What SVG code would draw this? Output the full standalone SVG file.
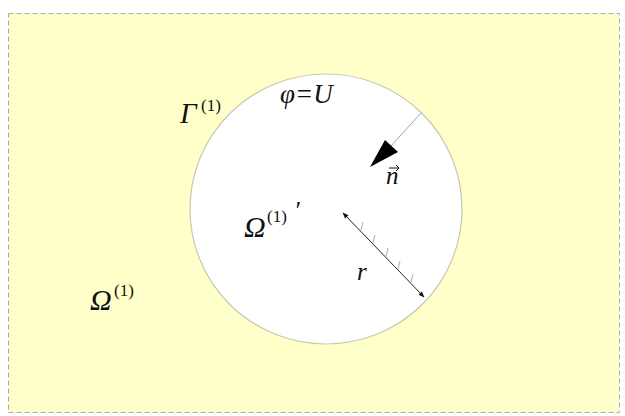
<svg xmlns="http://www.w3.org/2000/svg" width="625" height="416" viewBox="0 0 625 416">
<defs>
<style>
.t{font-family:"Liberation Serif","DejaVu Serif",serif;font-style:italic;fill:#111;}
.sup{font-family:"Liberation Serif","DejaVu Serif",serif;font-style:normal;fill:#111;font-size:17px;}
.tick{stroke:#aaa;stroke-width:1;}
</style>
<marker id="ah" viewBox="0 0 10 10" refX="9" refY="5" markerWidth="7" markerHeight="6" orient="auto-start-reverse" markerUnits="userSpaceOnUse">
<path d="M0,1 L10,5 L0,9 z" fill="#111"/>
</marker>
</defs>
<rect width="625" height="416" fill="#fff"/>
<rect x="8.5" y="13.5" width="611" height="399" fill="#ffffc9" stroke="#aaa" stroke-dasharray="5,3" stroke-width="1"/>
<g id="circle">
<ellipse cx="326" cy="209" rx="136" ry="135" fill="#fff" stroke="#c8c8b0" stroke-width="1.2"/>
</g>
<g id="connectors">
<line x1="421" y1="113" x2="390" y2="147" stroke="#9aa6c0" stroke-width="1"/>
<polygon points="370,167 385,140 398,152" fill="#000"/>
<line x1="343" y1="213" x2="424" y2="297" stroke="#222" stroke-width="1" marker-start="url(#ah)" marker-end="url(#ah)"/>
<g class="tick">
<line x1="361" y1="230" x2="363" y2="222"/>
<line x1="373" y1="243" x2="375" y2="235"/>
<line x1="386" y1="256" x2="388" y2="248"/>
<line x1="398" y1="269" x2="400" y2="261"/>
<line x1="411" y1="282" x2="413" y2="274"/>
</g>
</g>
<g id="labels">
<text class="t" x="180" y="123" font-size="29">Γ</text><text class="sup" x="201" y="111">(1)</text>
<text class="t" x="280" y="103" font-size="27">φ=U</text>
<text class="t" x="386" y="184" font-size="25">n</text>
<path d="M389,168 L399,168 M396,165 L399,168 L396,171" stroke="#111" stroke-width="1" fill="none"/>
<text class="t" x="244" y="237" font-size="30">Ω</text><text class="sup" x="267" y="222">(1)</text><text class="t" x="294" y="219" font-size="26">′</text>
<text class="t" x="357" y="280" font-size="25">r</text>
<text class="t" x="90" y="310" font-size="30">Ω</text><text class="sup" x="114" y="296">(1)</text>
</g>
</svg>
